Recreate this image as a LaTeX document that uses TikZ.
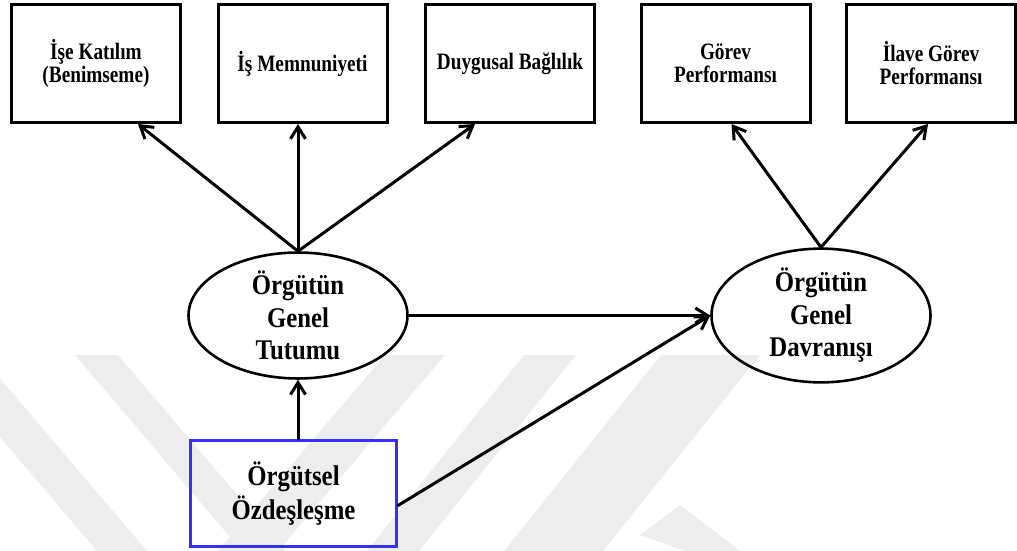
\documentclass[tikz,border=0pt]{standalone}
\usepackage{fontspec}
\setmainfont{Liberation Serif}[FakeStretch=0.87]
\newfontfamily\narrowserif{Liberation Serif}[FakeStretch=0.82]
\usetikzlibrary{arrows.meta,shapes.geometric}
\definecolor{markgray}{RGB}{237,237,237}
\definecolor{idblue}{RGB}{50,50,245}
\begin{document}
\begin{tikzpicture}[x=1pt,y=-1pt,
  topbox/.style={draw, line width=3pt, minimum width=169pt, minimum height=118pt,
    inner sep=0pt, align=center, font=\narrowserif\fontsize{23.5}{23}\selectfont\bfseries},
  latent/.style={ellipse, draw, line width=2.6pt, minimum width=219pt, minimum height=123pt,
    inner sep=0pt, align=center, font=\fontsize{28.5}{32.5}\selectfont\bfseries},
  sourcebox/.style={draw=idblue, line width=3pt, minimum width=206pt, minimum height=106pt,
    inner sep=0pt, align=center, font=\fontsize{28.5}{34}\selectfont\bfseries},
  link/.style={line width=3pt, line cap=round,
    -{Straight Barb[length=12pt,width=15pt,line width=3pt]}}
]
\useasboundingbox (0,0) rectangle (1017,551);

% faint background stripes
\begin{scope}
\clip (0,0) rectangle (1017,551);
\fill[markgray] (-70,355) -- (-20,355) -- (147,551) -- (97,551) -- cycle;
\fill[markgray] (75,355) -- (118,355) -- (285,551) -- (242,551) -- cycle;
\fill[markgray] (385,355) -- (445,355) -- (278,551) -- (218,551) -- cycle;
\fill[markgray] (524,355) -- (576,355) -- (419,551) -- (367,551) -- cycle;
\fill[markgray] (661,355) -- (760,355) -- (603,551) -- (504,551) -- cycle;
\fill[markgray] (640,535) -- (680,505) -- (740,551) -- (685,551) -- cycle;
\end{scope}

% indicator boxes
\node[topbox] (b1) at (96,63.5)   {İşe Katılım\\(Benimseme)};
\node[topbox] (b2) at (302.5,63.5) {İş Memnuniyeti};
\node[topbox] (b3) at (510,63.5)  {Duygusal Bağlılık};
\node[topbox] (b4) at (725.5,63.5) {Görev\\Performansı};
\node[topbox] (b5) at (931,63.5)  {İlave Görev\\Performansı};

% latent constructs
\node[latent] (e1) at (298,315.5) {Örgütün\\Genel\\Tutumu};
\node[latent] (e2) at (821,315.5) {Örgütün\\Genel\\Davranışı};

% source construct
\node[sourcebox] (b6) at (293.5,493.5) {Örgütsel\\Özdeşleşme};

% paths
\draw[link] (e1.north) -- ([xshift=42pt]b1.south);
\draw[link] (e1.north) -- ([xshift=-4.5pt]b2.south);
\draw[link] (e1.north) -- ([xshift=-35pt]b3.south);
\draw[link] (e2.north) -- ([xshift=6pt]b4.south);
\draw[link] (e2.north) -- ([xshift=-3pt]b5.south);
\draw[link] (e1.east) -- (e2.west);
\draw[link] (e1.south |- b6.north) -- (e1.south);
\draw[link] ([yshift=-12pt]b6.east) -- (e2.west);
\end{tikzpicture}
\end{document}
